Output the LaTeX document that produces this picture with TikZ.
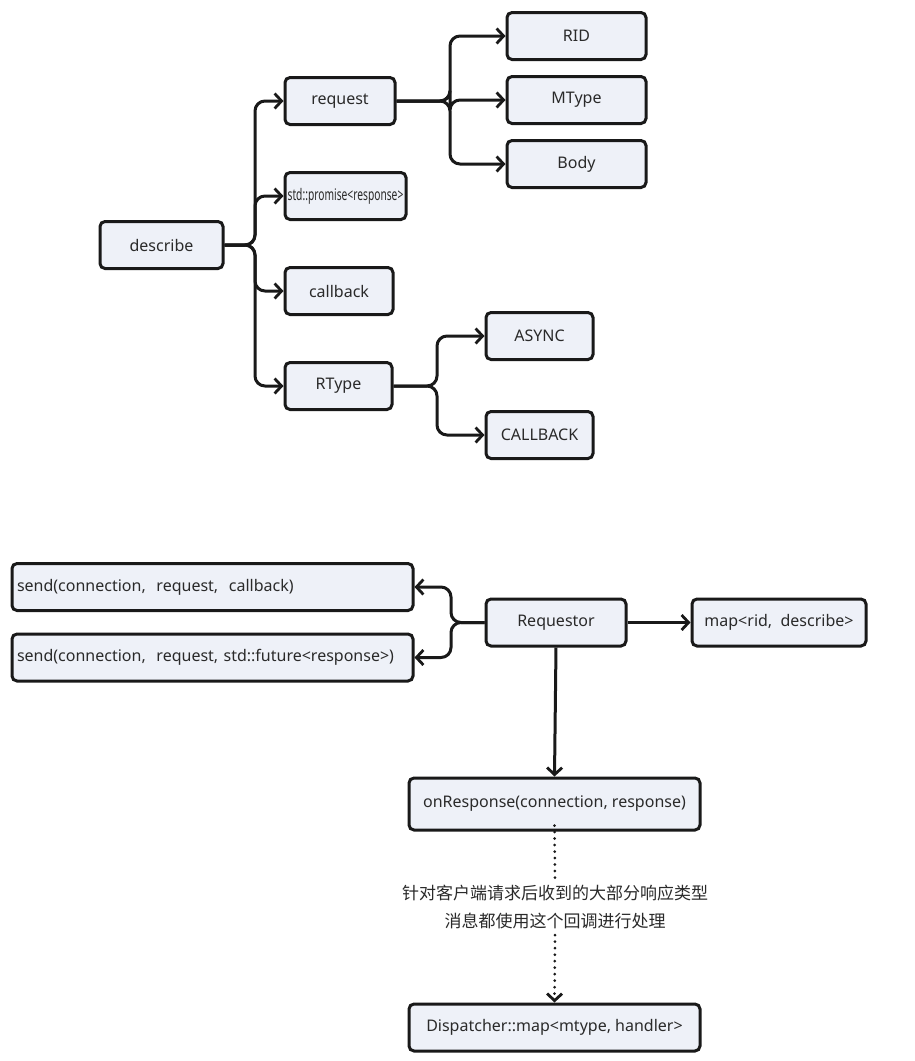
\documentclass[tikz,border=0pt]{standalone}
\usepackage{fontspec}
\setmainfont{Noto Sans}
\newfontfamily\cjk{Noto Sans CJK SC}
\usetikzlibrary{arrows.meta}
\definecolor{boxfill}{HTML}{EEF1F8}
\definecolor{txt}{HTML}{2A2A2A}
\tikzset{
  box/.style={draw=black!90, line width=3pt, rounded corners=5pt, fill=boxfill,
    minimum height=47pt, inner sep=4pt, font=\fontsize{16}{19}\selectfont, text=txt},
  conn/.style={line width=3pt, rounded corners=10pt, black!90,
    -{Straight Barb[length=7pt,width=15pt,line width=2.8pt]}},
  dotline/.style={line width=3pt, black!90, line cap=round, dash pattern=on 0pt off 6.5pt},
  dotconn/.style={dotline, -{Straight Barb[length=7pt,width=15pt,line width=2.8pt]}}
}
\begin{document}
\begin{tikzpicture}[x=1pt,y=-1pt]
\useasboundingbox[fill=white] (0,0) rectangle (915,1061);
% top tree
\node[box, minimum width=123pt] (describe) at (161.5,245) {describe};
\node[box, minimum width=110pt] (request) at (340,101) {request};
\node[box, minimum width=121pt, inner xsep=2pt] (promise) at (345.5,196) {\scalebox{0.64}[1]{std::promise<response>}};
\node[box, minimum width=108pt] (callback) at (339,291) {callback};
\node[box, minimum width=107pt] (rtype) at (338.5,386) {RType};
\node[box, minimum width=139pt] (rid) at (576.5,36) {RID};
\node[box, minimum width=139pt] (mtype) at (576.5,100) {MType};
\node[box, minimum width=139pt] (body) at (576.5,164) {Body};
\node[box, minimum width=107pt] (async) at (539.5,336) {ASYNC};
\node[box, minimum width=107pt] (cb2) at (539.5,435) {CALLBACK};

\foreach \t in {request,promise,callback,rtype}
  \draw[conn] (describe.east) -- (255,245) |- (\t.west);
\foreach \t in {rid,mtype,body}
  \draw[conn] (request.east) -- (450,101) |- (\t.west);
\foreach \t in {async,cb2}
  \draw[conn] (rtype.east) -- (437,386) |- (\t.west);

% bottom part
\node[box, minimum width=401pt, text width=391pt, inner xsep=5pt, align=left] (send1) at (212.5,587) {send(connection,\ \ request,\ \ callback)};
\node[box, minimum width=401pt, text width=391pt, inner xsep=5pt, align=left] (send2) at (212.5,657.5) {send(connection,\ \ request, std::future<response>)};
\node[box, minimum width=140pt] (requestor) at (556,622.5) {Requestor};
\node[box, minimum width=174pt] (map) at (779,622.5) {map<rid,\ \ describe>};
\node[box, minimum width=291pt, minimum height=52pt] (onresp) at (554.5,804) {onResponse(connection, response)};
\node[box, minimum width=291pt] (disp) at (554.5,1027.5) {Dispatcher::map<mtype, handler>};
\node[font=\cjk\fontsize{17}{28}\selectfont, align=center, text=txt, inner sep=6pt] (note) at (555,907) {针对客户端请求后收到的大部分响应类型\\消息都使用这个回调进行处理};

\foreach \t in {send1,send2}
  \draw[conn] (requestor.west) -- (451,622.5) |- (\t.east);
\draw[conn] (requestor.east) -- (map.west);
\draw[conn] (requestor.south) -- (onresp.north);
\draw[dotline] ([yshift=6pt]onresp.south) -- (note.north);
\draw[dotconn] (note.south) -- (disp.north);
\end{tikzpicture}
\end{document}
